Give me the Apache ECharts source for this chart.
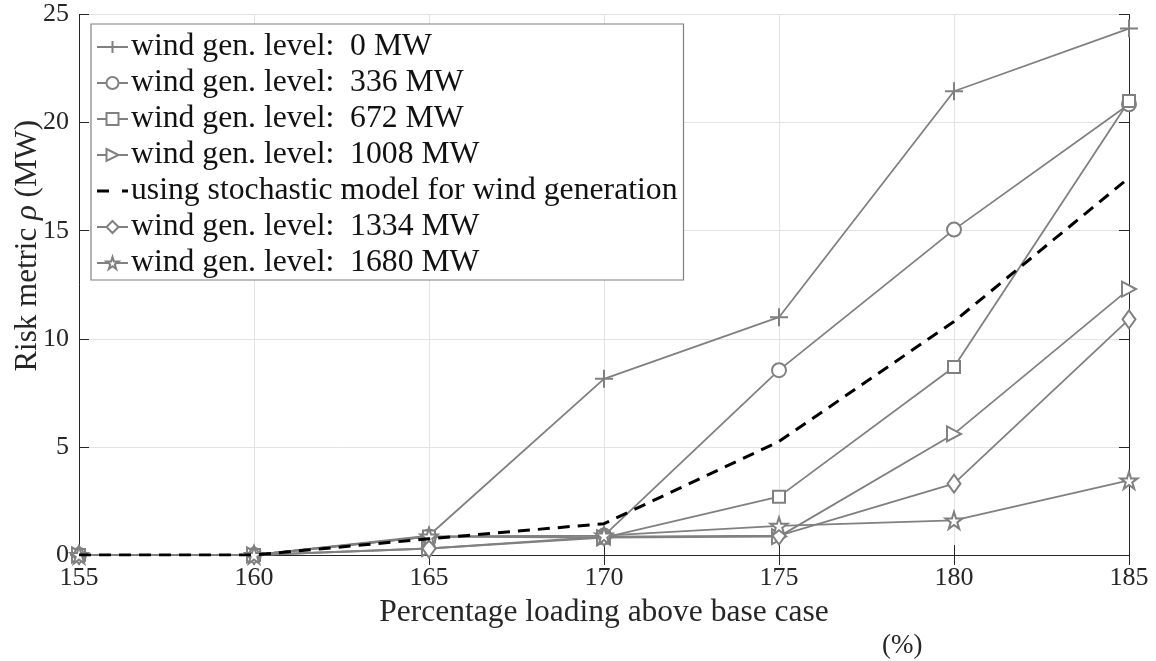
<!DOCTYPE html>
<html>
<head>
<meta charset="utf-8">
<script src="https://cdn.jsdelivr.net/npm/echarts@6/dist/echarts.min.js"></script>
<style>
  html, body { margin: 0; padding: 0; background: #fff; }
  #chart { width: 1156px; height: 661px; }
</style>
</head>
<body>
<div id="chart"></div>
<script>
// Percentage loading above base case (x values)
const loading = [155, 160, 165, 170, 175, 180, 185];

// Risk metric rho (MW) for each wind generation level
const wind0    = [0, 0, 0.9,  8.15, 11.0, 21.45, 24.35];
const wind336  = [0, 0, 0.85, 0.9,  8.55, 15.05, 20.85];
const wind672  = [0, 0, 0.85, 0.8,  2.7,  8.7,  21.0];
const wind1008 = [0, 0, 0.3,  0.8,  0.85, 5.6,  12.3];
const stochastic = [0, 0, 0.75, 1.45, 5.25, 10.8, 17.45];
const wind1334 = [0, 0, 0.3,  0.85, 0.9,  3.3,  10.9];
const wind1680 = [0, 0, 0.85, 0.9,  1.35, 1.6,  3.45];

const seriesNames = [
  'wind gen. level:  0 MW',
  'wind gen. level:  336 MW',
  'wind gen. level:  672 MW',
  'wind gen. level:  1008 MW',
  'using stochastic model for wind generation',
  'wind gen. level:  1334 MW',
  'wind gen. level:  1680 MW'
];

const xTicks = { min: 155, max: 185, interval: 5 };
const yTicks = { min: 0, max: 25, interval: 5 };

const GREY = '#808080';
const FONT = 'Liberation Serif';

const PLUS = 'path://M10,0L10,20M0,10L20,10';
const TRI_RIGHT = 'path://M0,0L18,10L0,20Z';
const STAR = 'path://M50,0L61.8,36.2L100,36.2L69.1,58.6L80.9,95.1L50,72.6L19.1,95.1L30.9,58.6L0,36.2L38.2,36.2Z';
// legend key for the dashed series: one long and one short dash
const DASH_KEY = 'path://M0,0L12,0L12,3L0,3Z M25,0L31,0L31,3L25,3Z';

function pairs(ys) { return loading.map((x, i) => [x, ys[i]]); }

function greySeries(name, ys, symbol, size, pathSymbol) {
  return {
    name: name,
    type: 'line',
    data: pairs(ys),
    symbol: symbol,
    symbolSize: size,
    showSymbol: true,
    lineStyle: { color: GREY, width: 1.8 },
    itemStyle: pathSymbol
      ? { color: '#fff', borderColor: GREY, borderWidth: 2 }
      : { color: GREY },
    emphasis: { disabled: true },
    z: 3
  };
}

const series = [
  greySeries(seriesNames[0], wind0, PLUS, 18, true),
  greySeries(seriesNames[1], wind336, 'emptyCircle', 14, false),
  greySeries(seriesNames[2], wind672, 'emptyRect', 12, false),
  greySeries(seriesNames[3], wind1008, TRI_RIGHT, [14, 15], true),
  {
    name: seriesNames[4],
    type: 'line',
    data: pairs(stochastic),
    symbol: 'none',
    lineStyle: { color: '#000', width: 3, type: [12, 8] },
    itemStyle: { color: '#000' },
    emphasis: { disabled: true },
    z: 4
  },
  greySeries(seriesNames[5], wind1334, 'emptyDiamond', [13, 18], false),
  greySeries(seriesNames[6], wind1680, STAR, 17, true)
];

const legendData = seriesNames.map((n, i) =>
  i === 4 ? { name: n, icon: DASH_KEY, itemStyle: { color: '#000' } } : n);

const chart = echarts.init(document.getElementById('chart'), null, { renderer: 'canvas' });

const frameLine = { show: true, lineStyle: { color: '#262626', width: 1 } };
const innerTicks = { show: true, inside: true, length: 10, lineStyle: { color: '#262626', width: 1 } };

chart.setOption({
  animation: false,
  backgroundColor: '#fff',
  grid: { left: 79, right: 27, top: 14.5, bottom: 106, containLabel: false, outerBoundsMode: 'none' },
  xAxis: [
    {
      type: 'value',
      min: xTicks.min, max: xTicks.max, interval: xTicks.interval,
      axisLine: frameLine,
      axisTick: innerTicks,
      splitLine: { show: true, lineStyle: { color: '#e3e3e3', width: 1 } },
      axisLabel: { fontFamily: FONT, fontSize: 26, color: '#262626', margin: 10 },
      name: 'Percentage loading above base case',
      nameLocation: 'middle',
      nameGap: 42,
      nameMoveOverlap: false,
      nameTextStyle: { fontFamily: FONT, fontSize: 31.5, color: '#262626' }
    },
    {
      type: 'value', position: 'top',
      min: xTicks.min, max: xTicks.max, interval: xTicks.interval,
      axisLine: frameLine, axisTick: innerTicks,
      axisLabel: { show: false }, splitLine: { show: false }
    }
  ],
  yAxis: [
    {
      type: 'value',
      min: yTicks.min, max: yTicks.max, interval: yTicks.interval,
      axisLine: frameLine,
      axisTick: innerTicks,
      splitLine: { show: true, lineStyle: { color: '#e3e3e3', width: 1 } },
      axisLabel: { fontFamily: FONT, fontSize: 26, color: '#262626', margin: 10 },
      name: 'Risk metric {i|ρ} (MW)',
      nameLocation: 'middle',
      nameGap: 36,
      nameMoveOverlap: false,
      nameTextStyle: {
        fontFamily: FONT, fontSize: 31, color: '#262626',
        padding: [0, 0, 0, 78],
        rich: { i: { fontFamily: FONT, fontSize: 31, fontStyle: 'italic', color: '#262626' } }
      }
    },
    {
      type: 'value', position: 'right',
      min: yTicks.min, max: yTicks.max, interval: yTicks.interval,
      axisLine: frameLine, axisTick: innerTicks,
      axisLabel: { show: false }, splitLine: { show: false }
    }
  ],
  legend: {
    orient: 'vertical',
    left: 91, top: 24,
    padding: [7, 6, 1, 5],
    itemGap: 4,
    itemWidth: 31,
    itemHeight: 15,
    backgroundColor: '#fff',
    borderColor: '#808080',
    borderWidth: 1.2,
    borderRadius: 0,
    selectedMode: false,
    textStyle: { fontFamily: FONT, fontSize: 31.7, color: '#111', padding: [0, 0, 0, -2] },
    data: legendData
  },
  graphic: [
    {
      type: 'text',
      left: 882, top: 632,
      style: { text: '(%)', font: '27px "Liberation Serif"', fill: '#262626' }
    }
  ],
  series: series
});
</script>
</body>
</html>
